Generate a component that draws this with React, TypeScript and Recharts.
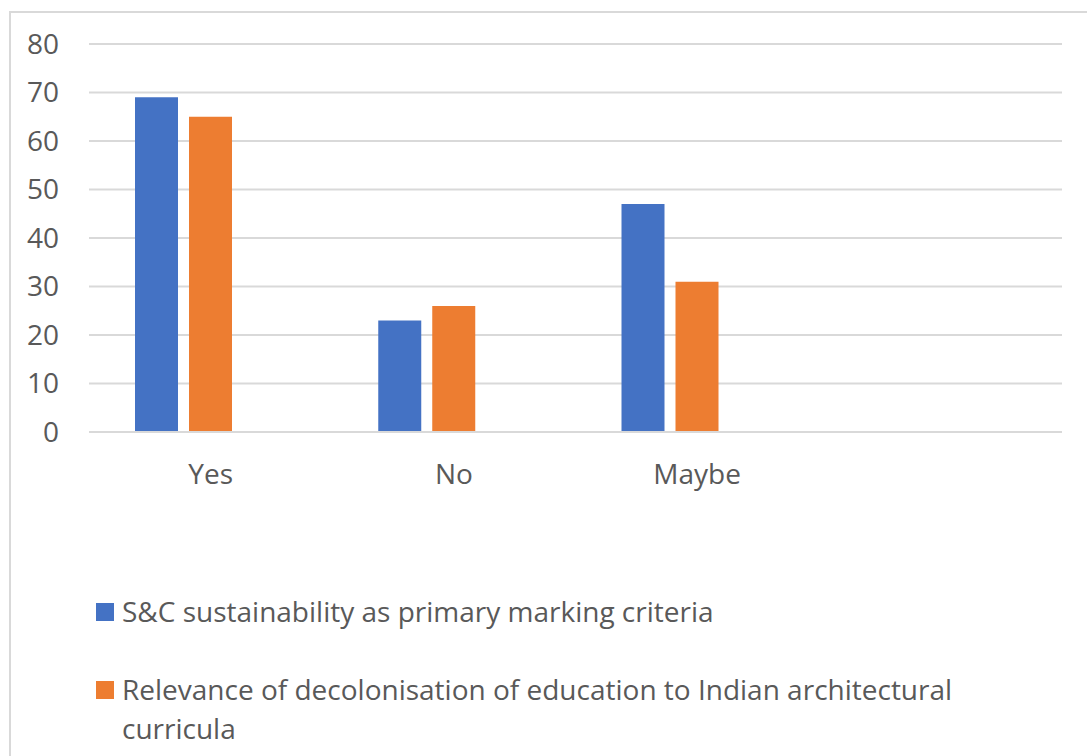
import { BarChart, Bar, XAxis, YAxis, CartesianGrid } from 'recharts';

const categories = ['Yes', 'No', 'Maybe', ''];
const sustainability = [69, 23, 47, null];
const decolonisation = [65, 26, 31, null];
// Excel reserved room for a third, empty series, so the bars sit left of centre
const emptySeries = [null, null, null, null];
const yTicks = [0, 10, 20, 30, 40, 50, 60, 70, 80];

const seriesNames = [
  'S&C sustainability as primary marking criteria',
  'Relevance of decolonisation of education to Indian architectural curricula',
];
const BLUE = '#4472C4';
const ORANGE = '#ED7D31';
const TEXT = '#595959';
const GRID = '#D9D9D9';
const FONT = '"Open Sans", "Noto Sans", sans-serif';

const data = categories.map((name, i) => ({
  name,
  sustainability: sustainability[i],
  decolonisation: decolonisation[i],
  blank: emptySeries[i],
}));

const App = () => {
  return (
    <div style={{ position: 'relative', width: 1087, height: 756, overflow: 'hidden', fontFamily: FONT }}>
      <style>{'body{margin:0;overflow:hidden;background:#fff}'}</style>
      <div
        style={{
          position: 'absolute',
          left: 9,
          top: 11,
          width: 1120,
          height: 800,
          border: `2px solid ${GRID}`,
        }}
      />
      <div style={{ position: 'absolute', left: 0, top: 0 }}>
        <BarChart
          width={1087}
          height={756}
          data={data}
          margin={{ top: 44, right: 25, left: 0, bottom: 264 }}
          barGap={11}
          barSize={43}
        >
          <CartesianGrid vertical={false} stroke={GRID} strokeWidth={2} />
          <XAxis
            dataKey="name"
            height={60}
            axisLine={{ stroke: GRID, strokeWidth: 2 }}
            tickLine={false}
            tickSize={0}
            tickMargin={32}
            tick={{ fontSize: 28, fill: TEXT, fontFamily: FONT }}
            interval={0}
          />
          <YAxis
            width={89}
            domain={[0, 80]}
            ticks={yTicks}
            axisLine={false}
            tickLine={false}
            tickSize={0}
            tickMargin={30}
            tick={{ fontSize: 28, fill: TEXT, fontFamily: FONT }}
          />
          <Bar dataKey="sustainability" fill={BLUE} isAnimationActive={false} />
          <Bar dataKey="decolonisation" fill={ORANGE} isAnimationActive={false} />
          <Bar dataKey="blank" fill="none" isAnimationActive={false} />
        </BarChart>
      </div>
      <div style={{ position: 'absolute', left: 96, top: 592, width: 870, color: TEXT, fontSize: 28 }}>
        {seriesNames.map((name, i) => (
          <div key={name} style={{ display: 'flex', alignItems: 'flex-start', marginBottom: 39 }}>
            <span
              style={{
                flex: '0 0 auto',
                width: 18,
                height: 18,
                marginTop: 11,
                marginRight: 8,
                background: i === 0 ? BLUE : ORANGE,
              }}
            />
            <span style={{ lineHeight: '39px' }}>{name}</span>
          </div>
        ))}
      </div>
    </div>
  );
};

export default App;
